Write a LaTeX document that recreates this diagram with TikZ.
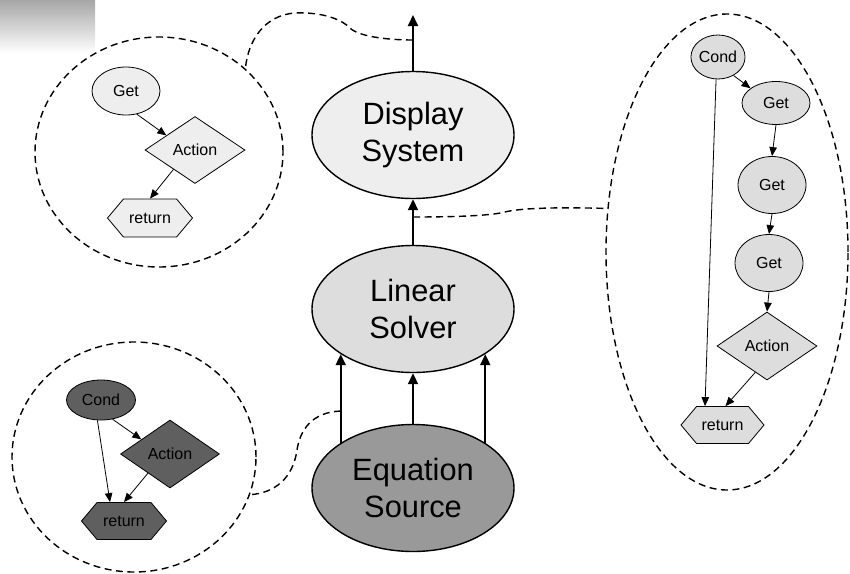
\documentclass[tikz,border=0pt]{standalone}
\usepackage{fontspec}
\setmainfont{Liberation Sans}
\usetikzlibrary{shapes.geometric,shapes.symbols,arrows.meta,calc}
\definecolor{fa}{HTML}{EEEEEE}
\definecolor{fb}{HTML}{DDDDDD}
\definecolor{fc}{HTML}{999999}
\definecolor{fd}{HTML}{5F5F5F}
\definecolor{gtop}{HTML}{A6A6A6}
\begin{document}
\begin{tikzpicture}[x=1pt,y=-1pt,
 big/.style={ellipse, draw, line width=1.4pt, minimum width=202pt, minimum height=127pt, inner sep=0pt, align=center, font=\fontsize{30.8}{37}\selectfont},
 sm/.style={draw, line width=0.8pt, inner sep=0pt, font=\fontsize{16}{19}\selectfont},
 sell/.style={sm, ellipse},
 sdia/.style={sm, diamond, minimum width=100pt, minimum height=67pt},
 shex/.style={sm, signal, signal to=west and east, signal pointer angle=100, minimum width=85pt, minimum height=38pt},
 grp/.style={ellipse, draw, dash pattern=on 7pt off 4.5pt, line width=1.4pt, inner sep=0pt},
 mainarr/.style={-{Triangle[length=11pt,width=10pt]}, line width=1.8pt},
 sarr/.style={-{Triangle[length=9pt,width=7.5pt]}, line width=0.8pt},
 dsh/.style={dash pattern=on 7pt off 4.5pt, line width=1.4pt},
]
\useasboundingbox (0,0) rectangle (850,573);
\shade[top color=gtop, bottom color=white] (0,0) rectangle (95,53);

% main nodes
\node[big, fill=fa] (disp) at (413,135) {Display\\System};
\node[big, fill=fb] (ls) at (413,309) {Linear\\Solver};
\node[big, fill=fc] (eq) at (413,488) {Equation\\Source};
\coordinate (topend) at (413,15);

\draw[mainarr] (disp.north) -- (topend);
\draw[mainarr] (ls.north) -- (disp.south);
\draw[mainarr] (eq.north) -- (ls.south);
\draw[mainarr] (eq.148) -- (ls.212);
\draw[mainarr] (eq.32) -- (ls.-32);

% group outlines
\node[grp, minimum width=248pt, minimum height=230pt] (tlc) at (159,152) {};
\node[grp, minimum width=244pt, minimum height=230pt] (blc) at (134,457) {};
\node[grp, minimum width=242pt, minimum height=476pt] (re) at (727,252) {};

% top-left group
\node[sell, fill=fa, minimum width=68pt, minimum height=48pt] (tget) at (126,91) {Get};
\node[sdia, fill=fa] (tact) at (195,150) {Action};
\node[shex, fill=fa] (tret) at (150,218) {return};
\draw[sarr] (tget.-65) -- (tact.153);
\draw[sarr] (tact.222) -- (tret.north);

% bottom-left group
\node[sell, fill=fd, minimum width=69pt, minimum height=40pt] (bcond) at (101,400) {Cond};
\node[sdia, fill=fd, minimum width=99pt, minimum height=68pt] (bact) at (170,454) {Action};
\node[shex, fill=fd, minimum height=37pt] (bret) at (124,521) {return};
\draw[sarr] (bcond.-59) -- (bact.153);
\draw[sarr] (bcond.-100) -- ($(bret.north)+(-14,0)$);
\draw[sarr] (bact.221) -- (bret.north);

% right group
\node[sell, fill=fb, minimum width=48pt, minimum height=44pt] (rcond) at (718,57) {Cond};
\node[sell, fill=fb, minimum width=68pt, minimum height=43pt] (rg1) at (776,103) {Get};
\node[sell, fill=fb, minimum width=68pt, minimum height=57pt] (rg2) at (772,185) {Get};
\node[sell, fill=fb, minimum width=68pt, minimum height=57pt] (rg3) at (769,263) {Get};
\node[sdia, fill=fb, minimum height=68pt] (ract) at (767,346) {Action};
\node[shex, fill=fb, minimum width=83pt, minimum height=37pt] (rret) at (722.5,425) {return};
\draw[sarr] (rcond.-50) -- (rg1.150);
\draw[sarr] (rg1.south) -- (rg2.north);
\draw[sarr] (rg2.south) -- (rg3.north);
\draw[sarr] (rg3.south) -- (ract.north);
\draw[sarr] (ract.246) -- ($(rret.north)+(3,0)$);
\draw[sarr] (rcond.-95) -- ($(rret.north)+(-17.5,0)$);

% dashed connectors
\coordinate (ta) at (413,40);
\coordinate (tb) at (413,217);
\coordinate (tc) at (341,411);
\draw[dsh] (ta) .. controls (385,40) and (358,36) .. (350,28)
  .. controls (340,18) and (320,12) .. (295,13)
  .. controls (265,15) and (248,40) .. (tlc.44);
\draw[dsh] (tb) .. controls (450,217) and (490,216) .. (505,212)
  .. controls (520,208) and (560,207) .. (re.160);
\draw[dsh] (tc) .. controls (312,412) and (300,430) .. (297,450)
  .. controls (293,478) and (275,493) .. (blc.-18.6);
\end{tikzpicture}
\end{document}
